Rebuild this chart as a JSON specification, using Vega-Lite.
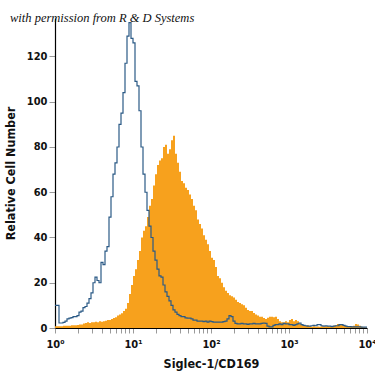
{
  "$schema": "https://vega.github.io/schema/vega-lite/v6.json",
  "width": 312,
  "height": 310,
  "autosize": {"type": "none"},
  "padding": {"left": 55, "top": 18, "right": 8, "bottom": 47},
  "background": "white",
  "title": {
    "text": "with permission from R & D Systems",
    "anchor": "start",
    "frame": "group",
    "orient": "top",
    "offset": 0,
    "dx": -45,
    "dy": 16,
    "baseline": "alphabetic",
    "font": "Liberation Serif",
    "fontStyle": "italic",
    "fontWeight": "normal",
    "fontSize": 12.5,
    "color": "#111111"
  },
  "data": {
    "values": [
      {"fluor": 1, "isotype": 10, "siglec": 0.8},
      {"fluor": 1.0608, "isotype": 10, "siglec": 0.8},
      {"fluor": 1.1253, "isotype": 2.2, "siglec": 0.8},
      {"fluor": 1.1938, "isotype": 2.2, "siglec": 0.8},
      {"fluor": 1.2664, "isotype": 2.5, "siglec": 1},
      {"fluor": 1.3434, "isotype": 3, "siglec": 1},
      {"fluor": 1.4251, "isotype": 4, "siglec": 1},
      {"fluor": 1.5118, "isotype": 4.4, "siglec": 1},
      {"fluor": 1.6037, "isotype": 4.6, "siglec": 1.2},
      {"fluor": 1.7013, "isotype": 5, "siglec": 1.2},
      {"fluor": 1.8047, "isotype": 5, "siglec": 1.2},
      {"fluor": 1.9145, "isotype": 5.5, "siglec": 1.3},
      {"fluor": 2.0309, "isotype": 7, "siglec": 1.5},
      {"fluor": 2.1544, "isotype": 7.5, "siglec": 1.5},
      {"fluor": 2.2855, "isotype": 9, "siglec": 2},
      {"fluor": 2.4245, "isotype": 9.5, "siglec": 2.2},
      {"fluor": 2.5719, "isotype": 11, "siglec": 2.5},
      {"fluor": 2.7283, "isotype": 13, "siglec": 2.2},
      {"fluor": 2.8943, "isotype": 15.5, "siglec": 2.5},
      {"fluor": 3.0703, "isotype": 20, "siglec": 2.5},
      {"fluor": 3.257, "isotype": 22.5, "siglec": 2.8},
      {"fluor": 3.4551, "isotype": 21, "siglec": 2.5},
      {"fluor": 3.6652, "isotype": 20, "siglec": 3},
      {"fluor": 3.8881, "isotype": 29, "siglec": 2.8},
      {"fluor": 4.1246, "isotype": 28, "siglec": 3},
      {"fluor": 4.3755, "isotype": 34, "siglec": 3.2},
      {"fluor": 4.6416, "isotype": 36, "siglec": 3.5},
      {"fluor": 4.9239, "isotype": 49, "siglec": 3.5},
      {"fluor": 5.2233, "isotype": 58, "siglec": 4},
      {"fluor": 5.541, "isotype": 68, "siglec": 4.4},
      {"fluor": 5.878, "isotype": 73, "siglec": 4.8},
      {"fluor": 6.2355, "isotype": 80, "siglec": 5.5},
      {"fluor": 6.6147, "isotype": 90, "siglec": 6},
      {"fluor": 7.017, "isotype": 95, "siglec": 6.5},
      {"fluor": 7.4438, "isotype": 104, "siglec": 7.5},
      {"fluor": 7.8965, "isotype": 117, "siglec": 8.5},
      {"fluor": 8.3768, "isotype": 129, "siglec": 11},
      {"fluor": 8.8862, "isotype": 135, "siglec": 15},
      {"fluor": 9.4267, "isotype": 128, "siglec": 19},
      {"fluor": 10, "isotype": 126, "siglec": 23},
      {"fluor": 10.608, "isotype": 109, "siglec": 26},
      {"fluor": 11.253, "isotype": 107, "siglec": 30},
      {"fluor": 11.938, "isotype": 96, "siglec": 34},
      {"fluor": 12.664, "isotype": 80, "siglec": 40},
      {"fluor": 13.434, "isotype": 68, "siglec": 43},
      {"fluor": 14.251, "isotype": 60, "siglec": 45},
      {"fluor": 15.118, "isotype": 52, "siglec": 49},
      {"fluor": 16.037, "isotype": 45, "siglec": 54},
      {"fluor": 17.013, "isotype": 40, "siglec": 57},
      {"fluor": 18.047, "isotype": 34, "siglec": 63},
      {"fluor": 19.145, "isotype": 30, "siglec": 68},
      {"fluor": 20.309, "isotype": 26, "siglec": 72},
      {"fluor": 21.544, "isotype": 23, "siglec": 74},
      {"fluor": 22.855, "isotype": 22.5, "siglec": 75},
      {"fluor": 24.245, "isotype": 19, "siglec": 80},
      {"fluor": 25.719, "isotype": 16, "siglec": 81},
      {"fluor": 27.283, "isotype": 14, "siglec": 77},
      {"fluor": 28.943, "isotype": 12, "siglec": 79},
      {"fluor": 30.703, "isotype": 10, "siglec": 83},
      {"fluor": 32.57, "isotype": 8, "siglec": 85},
      {"fluor": 34.551, "isotype": 7, "siglec": 77},
      {"fluor": 36.652, "isotype": 6, "siglec": 73},
      {"fluor": 38.881, "isotype": 5.5, "siglec": 69},
      {"fluor": 41.246, "isotype": 5, "siglec": 65},
      {"fluor": 43.755, "isotype": 5, "siglec": 64},
      {"fluor": 46.416, "isotype": 4.5, "siglec": 62},
      {"fluor": 49.239, "isotype": 4.4, "siglec": 61},
      {"fluor": 52.233, "isotype": 4.4, "siglec": 59},
      {"fluor": 55.41, "isotype": 4, "siglec": 57},
      {"fluor": 58.78, "isotype": 3.5, "siglec": 54},
      {"fluor": 62.355, "isotype": 3.5, "siglec": 52},
      {"fluor": 66.147, "isotype": 3, "siglec": 48},
      {"fluor": 70.17, "isotype": 3, "siglec": 46},
      {"fluor": 74.438, "isotype": 3, "siglec": 44},
      {"fluor": 78.965, "isotype": 2.8, "siglec": 41},
      {"fluor": 83.768, "isotype": 3, "siglec": 39},
      {"fluor": 88.862, "isotype": 2.6, "siglec": 37},
      {"fluor": 94.267, "isotype": 3, "siglec": 34},
      {"fluor": 100, "isotype": 2.8, "siglec": 31},
      {"fluor": 106.08, "isotype": 2.6, "siglec": 30},
      {"fluor": 112.53, "isotype": 2.6, "siglec": 27},
      {"fluor": 119.38, "isotype": 2.6, "siglec": 23},
      {"fluor": 126.64, "isotype": 2.6, "siglec": 22},
      {"fluor": 134.34, "isotype": 2.6, "siglec": 20},
      {"fluor": 142.51, "isotype": 2.8, "siglec": 18},
      {"fluor": 151.18, "isotype": 3, "siglec": 16.5},
      {"fluor": 160.37, "isotype": 4, "siglec": 15.5},
      {"fluor": 170.13, "isotype": 5.5, "siglec": 14.5},
      {"fluor": 180.47, "isotype": 5, "siglec": 14},
      {"fluor": 191.45, "isotype": 3, "siglec": 13.5},
      {"fluor": 203.09, "isotype": 2, "siglec": 12.5},
      {"fluor": 215.44, "isotype": 1.8, "siglec": 11.5},
      {"fluor": 228.55, "isotype": 1.8, "siglec": 11},
      {"fluor": 242.45, "isotype": 2, "siglec": 10.5},
      {"fluor": 257.19, "isotype": 1.8, "siglec": 10},
      {"fluor": 272.83, "isotype": 1.8, "siglec": 9},
      {"fluor": 289.43, "isotype": 1.6, "siglec": 8},
      {"fluor": 307.03, "isotype": 1.8, "siglec": 7.5},
      {"fluor": 325.7, "isotype": 1.8, "siglec": 7.5},
      {"fluor": 345.51, "isotype": 2, "siglec": 6.6},
      {"fluor": 366.52, "isotype": 1.8, "siglec": 6},
      {"fluor": 388.81, "isotype": 1.8, "siglec": 5.5},
      {"fluor": 412.46, "isotype": 1.8, "siglec": 5},
      {"fluor": 437.55, "isotype": 2, "siglec": 5},
      {"fluor": 464.16, "isotype": 2.2, "siglec": 4.4},
      {"fluor": 492.39, "isotype": 2, "siglec": 4},
      {"fluor": 522.33, "isotype": 0.8, "siglec": 4.5},
      {"fluor": 554.1, "isotype": 0.5, "siglec": 5},
      {"fluor": 587.8, "isotype": 0.5, "siglec": 5},
      {"fluor": 623.55, "isotype": 1.2, "siglec": 4.8},
      {"fluor": 661.47, "isotype": 1.5, "siglec": 5},
      {"fluor": 701.7, "isotype": 1.5, "siglec": 4},
      {"fluor": 744.38, "isotype": 1.8, "siglec": 3},
      {"fluor": 789.65, "isotype": 1.5, "siglec": 2.5},
      {"fluor": 837.68, "isotype": 2, "siglec": 2.5},
      {"fluor": 888.62, "isotype": 1.8, "siglec": 3},
      {"fluor": 942.67, "isotype": 1.8, "siglec": 2.5},
      {"fluor": 1000, "isotype": 1.5, "siglec": 3.5},
      {"fluor": 1060.8, "isotype": 1.5, "siglec": 4},
      {"fluor": 1125.3, "isotype": 1.2, "siglec": 3},
      {"fluor": 1193.8, "isotype": 1.5, "siglec": 3.5},
      {"fluor": 1266.4, "isotype": 1.8, "siglec": 3},
      {"fluor": 1343.4, "isotype": 2.2, "siglec": 2},
      {"fluor": 1425.1, "isotype": 1.5, "siglec": 1.5},
      {"fluor": 1511.8, "isotype": 1.2, "siglec": 1.3},
      {"fluor": 1603.7, "isotype": 1, "siglec": 1},
      {"fluor": 1701.3, "isotype": 0.8, "siglec": 1.2},
      {"fluor": 1804.7, "isotype": 0.8, "siglec": 0.8},
      {"fluor": 1914.5, "isotype": 1, "siglec": 0.6},
      {"fluor": 2030.9, "isotype": 1.2, "siglec": 0.8},
      {"fluor": 2154.4, "isotype": 1, "siglec": 0.6},
      {"fluor": 2285.5, "isotype": 1.5, "siglec": 0.7},
      {"fluor": 2424.5, "isotype": 1.5, "siglec": 0.6},
      {"fluor": 2571.9, "isotype": 1, "siglec": 0.8},
      {"fluor": 2728.3, "isotype": 0.8, "siglec": 0.6},
      {"fluor": 2894.3, "isotype": 1, "siglec": 0.8},
      {"fluor": 3070.3, "isotype": 0.8, "siglec": 0.8},
      {"fluor": 3257, "isotype": 0.8, "siglec": 0.7},
      {"fluor": 3455.1, "isotype": 0.6, "siglec": 0.8},
      {"fluor": 3665.2, "isotype": 0.8, "siglec": 1},
      {"fluor": 3888.1, "isotype": 1, "siglec": 1.2},
      {"fluor": 4124.6, "isotype": 1, "siglec": 1.8},
      {"fluor": 4375.5, "isotype": 1.5, "siglec": 1.8},
      {"fluor": 4641.6, "isotype": 1.5, "siglec": 1.8},
      {"fluor": 4923.9, "isotype": 1.2, "siglec": 1.2},
      {"fluor": 5223.3, "isotype": 0.8, "siglec": 1},
      {"fluor": 5541, "isotype": 0.6, "siglec": 0.6},
      {"fluor": 5878, "isotype": 0.6, "siglec": 0.6},
      {"fluor": 6235.5, "isotype": 0.5, "siglec": 0.8},
      {"fluor": 6614.7, "isotype": 0.5, "siglec": 1},
      {"fluor": 7017, "isotype": 0.5, "siglec": 1.8},
      {"fluor": 7443.8, "isotype": 0.5, "siglec": 1.5},
      {"fluor": 7896.5, "isotype": 0.5, "siglec": 1},
      {"fluor": 8376.8, "isotype": 0.4, "siglec": 0.5},
      {"fluor": 8886.2, "isotype": 0.4, "siglec": 0.3},
      {"fluor": 9426.7, "isotype": 0.4, "siglec": 0.2},
      {"fluor": 10000, "isotype": 0.4, "siglec": 0}
    ]
  },
  "encoding": {
    "x": {
      "field": "fluor",
      "type": "quantitative",
      "scale": {"type": "log", "domain": [1, 10000], "nice": false},
      "axis": {
        "title": "Siglec-1/CD169",
        "values": [1, 2, 3, 4, 5, 6, 7, 8, 9, 10, 20, 30, 40, 50, 60, 70, 80, 90, 100, 200, 300, 400, 500, 600, 700, 800, 900, 1000, 2000, 3000, 4000, 5000, 6000, 7000, 8000, 9000, 10000],
        "labelExpr": "datum.value == 1 ? '10⁰' : datum.value == 10 ? '10¹' : datum.value == 100 ? '10²' : datum.value == 1000 ? '10³' : datum.value == 10000 ? '10⁴' : ''",
        "labelOverlap": false,
        "labelFlush": false,
        "grid": false,
        "tickSize": 5,
        "tickColor": "#9a9a9a",
        "domainColor": "#000000",
        "domainWidth": 1.2,
        "labelFont": "DejaVu Sans Condensed, Liberation Sans",
        "labelFontSize": 11,
        "labelFontWeight": "bold",
        "labelColor": "#111111",
        "labelPadding": 5,
        "titleFont": "DejaVu Sans Condensed, Liberation Sans",
        "titleFontSize": 12.5,
        "titleFontWeight": "bold",
        "titleColor": "#111111",
        "titlePadding": 8
      }
    }
  },
  "layer": [
    {
      "mark": {"type": "area", "interpolate": "step-after", "color": "#F7A11D", "opacity": 1},
      "encoding": {
        "y": {
          "field": "siglec",
          "type": "quantitative",
          "scale": {"domain": [0, 137], "nice": false},
          "axis": {
            "title": "Relative Cell Number",
            "values": [0, 20, 40, 60, 80, 100, 120],
            "grid": false,
            "tickSize": 6,
            "tickColor": "#9a9a9a",
            "domainColor": "#000000",
            "domainWidth": 1.2,
            "labelFont": "DejaVu Sans Condensed, Liberation Sans",
            "labelFontSize": 11,
            "labelFontWeight": "bold",
            "labelColor": "#111111",
            "labelPadding": 2,
            "titleFont": "DejaVu Sans Condensed, Liberation Sans",
            "titleFontSize": 12.5,
            "titleFontWeight": "bold",
            "titleColor": "#111111",
            "titlePadding": 9
          }
        }
      }
    },
    {
      "mark": {"type": "line", "interpolate": "step-after", "color": "#2B5A86", "strokeWidth": 1.2},
      "encoding": {
        "y": {"field": "isotype", "type": "quantitative"}
      }
    }
  ],
  "config": {"view": {"stroke": null}}
}
